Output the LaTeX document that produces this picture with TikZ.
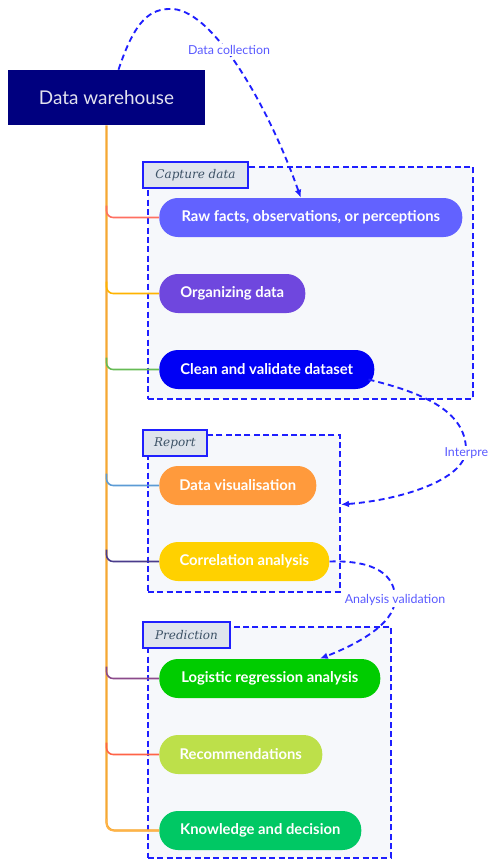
\documentclass[tikz,border=0pt]{standalone}
\usepackage{fontspec}
\setmainfont{Lato}
\newfontfamily\tabfont{DejaVu Serif}
\usetikzlibrary{arrows.meta,positioning,calc,fit}

\definecolor{whnavy}{HTML}{00007F}
\definecolor{whtext}{HTML}{E2E2EE}
\definecolor{flowblue}{HTML}{1F1FFF}
\definecolor{lblblue}{HTML}{5A5AFF}
\definecolor{groupbg}{HTML}{F6F8FB}
\definecolor{tabbg}{HTML}{DFE4EC}
\definecolor{tabtext}{HTML}{3D5266}
\definecolor{trunkor}{HTML}{F5A833}
\definecolor{cRaw}{HTML}{6262FF}
\definecolor{cOrg}{HTML}{6F47DE}
\definecolor{cClean}{HTML}{0000F5}
\definecolor{cVis}{HTML}{FF9A3C}
\definecolor{cCorr}{HTML}{FFD100}
\definecolor{cLogit}{HTML}{00CC00}
\definecolor{cRecom}{HTML}{BDE04A}
\definecolor{cKnow}{HTML}{00C864}
\definecolor{brRaw}{HTML}{FF6F61}
\definecolor{brOrg}{HTML}{FFB300}
\definecolor{brClean}{HTML}{66BB55}
\definecolor{brVis}{HTML}{5B9BD5}
\definecolor{brCorr}{HTML}{4A3C8C}
\definecolor{brLogit}{HTML}{8B4A8B}
\definecolor{brRecom}{HTML}{FF6347}
\definecolor{brKnow}{HTML}{FFB347}

\begin{document}
\begin{tikzpicture}[
  x=0.75pt, y=-0.75pt,
  every node/.style={align=center},
  store/.style={fill=whnavy, text=whtext, font=\fontsize{14.2}{16}\selectfont, minimum width=147.75pt, minimum height=41.25pt},
  pill/.style={fill=#1, text=white, rounded corners=14pt, minimum height=29.25pt, font=\bfseries\fontsize{11.1}{13}\selectfont},
  group/.style={draw=flowblue, fill=groupbg, line width=1.4pt, dash pattern=on 4.5pt off 2.5pt, inner sep=0pt},
  tab/.style={draw=flowblue, fill=tabbg, line width=1.4pt, text=tabtext, minimum height=19.5pt, font=\tabfont\itshape\fontsize{9}{10}\selectfont},
  trunk/.style={draw=trunkor, line width=1.6pt, rounded corners=6pt},
  branch/.style={line width=1.2pt, rounded corners=5pt},
  flow/.style={draw=flowblue, line width=1.4pt, dash pattern=on 4.5pt off 3pt, -{Latex[length=6pt,width=5pt]}},
  lbl/.style={fill=white, text=lblblue, inner sep=1pt, font=\fontsize{9.3}{11}\selectfont}
]
\useasboundingbox (0,0) rectangle (487,860);

\node[group, fit={(148,167) (473,399)}] (capture) {};
\node[group, fit={(148,435) (340,592)}] (report) {};
\node[group, fit={(148,627) (391,858)}] (predict) {};

\node[tab, minimum width=78.75pt, anchor=north west] (capturetab) at ($(capture.north west)+(-5,-5)$) {Capture data};
\node[tab, minimum width=48pt, anchor=north west] (reporttab) at ($(report.north west)+(-5,-5)$) {Report};
\node[tab, minimum width=65.25pt, anchor=north west] (predicttab) at ($(predict.north west)+(-5,-5)$) {Prediction};

\node[store] (warehouse) at (106.5,97.5) {Data warehouse};

\node[pill=cRaw, minimum width=227.25pt, anchor=west] (raw) at (159,217.5) {Raw facts, observations, or perceptions};
\node[pill=cOrg, minimum width=109.5pt, below=57pt of raw.west, anchor=west] (org) {Organizing data};
\node[pill=cClean, minimum width=161.25pt, below=57pt of org.west, anchor=west] (clean) {Clean and validate dataset};
\node[pill=cVis, minimum width=117.75pt, anchor=west] (vis) at (159,485.5) {Data visualisation};
\node[pill=cCorr, minimum width=127.5pt, below=57pt of vis.west, anchor=west] (corr) {Correlation analysis};
\node[pill=cLogit, minimum width=165.75pt, anchor=west] (logit) at (159,678.5) {Logistic regression analysis};
\node[pill=cRecom, minimum width=122.25pt, below=57pt of logit.west, anchor=west] (recom) {Recommendations};
\node[pill=cKnow, minimum width=151.5pt, below=57pt of recom.west, anchor=west] (know) {Knowledge and decision};

\draw[trunk] (warehouse.south) |- (know.west);
\foreach \n/\c in {raw/brRaw, org/brOrg, clean/brClean, vis/brVis, corr/brCorr, logit/brLogit, recom/brRecom, know/brKnow}
  \draw[branch, \c] ($(warehouse.south |- \n.west)+(0,-12)$) |- (\n.west);

\draw[flow] ($(warehouse.north)+(12,0)$) .. controls (135,20) and (150,8) .. (173,9)
  .. controls (215,12) and (270,110) .. ($(raw.north)+(-10,0)$);
\draw[flow] ($(clean.east)+(-6,10)$) .. controls (420,392) and (466,410) .. (466,450)
  .. controls (465,480) and (400,500) .. ($(report.east)+(0,-9)$);
\draw[flow] (corr.east) .. controls (375,560) and (396,575) .. (395,600)
  .. controls (394,625) and (355,645) .. ($(logit.north)+(50,0)$);

\node[lbl] (lcollect) at (229,50) {Data collection};
\node[lbl, anchor=west] (linterp) at (443,453) {Interpretation};
\node[lbl] (lvalid) at (395,600) {Analysis validation};
\end{tikzpicture}
\end{document}
